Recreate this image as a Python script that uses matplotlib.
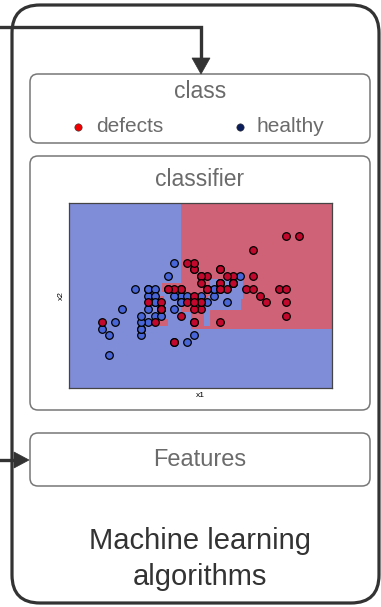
import numpy as np
import matplotlib.pyplot as plt
from matplotlib.patches import FancyBboxPatch, Polygon
from matplotlib.colors import ListedColormap

plt.rcParams['font.family'] = ['Liberation Sans', 'DejaVu Sans']

# scatter points (x1, x2)
healthy_x1 = [7.0, 6.4, 6.9, 5.5, 6.5, 5.7, 6.3, 4.9, 6.6, 5.2, 5.0, 5.9, 6.0, 6.1, 5.6,
              6.7, 5.6, 5.8, 6.2, 5.6, 5.9, 6.1, 6.3, 6.1, 6.4, 6.6, 6.8, 6.7, 6.0, 5.7,
              5.5, 5.5, 5.8, 6.0, 5.4, 6.0, 6.7, 6.3, 5.6, 5.5, 5.5, 6.1, 5.8, 5.0, 5.6,
              5.7, 5.7, 6.2, 5.1, 5.7]
healthy_x2 = [3.2, 3.2, 3.1, 2.3, 2.8, 2.8, 3.3, 2.4, 2.9, 2.7, 2.0, 3.0, 2.2, 2.9, 2.9,
              3.1, 3.0, 2.7, 2.2, 2.5, 3.2, 2.8, 2.5, 2.8, 2.9, 3.0, 2.8, 3.0, 2.9, 2.6,
              2.4, 2.4, 2.7, 2.7, 3.0, 3.4, 3.1, 2.3, 3.0, 2.5, 2.6, 3.0, 2.6, 2.3, 2.7,
              3.0, 2.9, 2.9, 2.5, 2.8]
defects_x1 = [6.3, 5.8, 7.1, 6.3, 6.5, 7.6, 4.9, 7.3, 6.7, 7.2, 6.5, 6.4, 6.8, 5.7, 5.8,
              6.4, 6.5, 7.7, 7.7, 6.0, 6.9, 5.6, 7.7, 6.3, 6.7, 7.2, 6.2, 6.1, 6.4, 7.2,
              7.4, 7.9, 6.4, 6.3, 6.1, 7.7, 6.3, 6.4, 6.0, 6.9, 6.7, 6.9, 5.8, 6.8, 6.7,
              6.7, 6.3, 6.5, 6.2, 5.9]
defects_x2 = [3.3, 2.7, 3.0, 2.9, 3.0, 3.0, 2.5, 2.9, 2.5, 3.6, 3.2, 2.7, 3.0, 2.5, 2.8,
              3.2, 3.0, 3.8, 2.6, 2.2, 3.2, 2.8, 2.8, 2.7, 3.3, 3.2, 2.8, 3.0, 2.8, 3.0,
              2.8, 3.8, 2.8, 2.8, 2.6, 3.0, 3.4, 3.1, 3.0, 3.1, 3.1, 3.1, 2.7, 3.2, 3.3,
              3.0, 2.5, 3.0, 3.4, 3.0]

# decision regions: (x1 from, x1 to, x2 from, x2 to), rest of the plane is "healthy"
red_leaves = [(6.1, 8.4, 2.4, 4.3),
              (5.8, 6.1, 2.95, 3.1),
              (5.75, 5.9, 2.45, 2.55),
              (5.75, 5.85, 2.75, 2.9)]
blue_leaves = [(6.55, 7.05, 2.85, 3.15),
               (6.5, 7.0, 2.7, 2.9),
               (6.45, 6.55, 2.45, 2.75),
               (6.1, 6.25, 2.4, 2.65)]

legend_labels = ['defects', 'healthy']

fig = plt.figure(figsize=(3.81, 6.07), dpi=100)

# diagram layer, one unit = one pixel
ax0 = fig.add_axes([0, 0, 1, 1])
ax0.set_xlim(0, 381)
ax0.set_ylim(607, 0)
ax0.axis('off')

dark = '#333333'
grey = '#6b6b6b'

outer = FancyBboxPatch((12, 5), 367, 598, boxstyle='round,pad=0,rounding_size=28',
                       fc='white', ec=dark, lw=2.3)
ax0.add_patch(outer)

for (y0, h) in [(74, 69), (156, 254), (433, 53)]:
    ax0.add_patch(FancyBboxPatch((30, y0), 340, h, boxstyle='round,pad=0,rounding_size=8',
                                 fc='white', ec='#777777', lw=1.1))

# arrows
ax0.plot([0, 201, 201], [27, 27, 60], color=dark, lw=2.4, solid_joinstyle='miter')
ax0.add_patch(Polygon([[192, 58], [210, 58], [201, 74]], closed=True, fc=dark, ec=dark, lw=0.5))
ax0.plot([0, 16], [460, 460], color=dark, lw=2.4)
ax0.add_patch(Polygon([[14, 452], [14, 468], [29, 460]], closed=True, fc=dark, ec=dark, lw=0.5))

ax0.text(200, 91, 'class', ha='center', va='center', fontsize=16.5, color=grey)
ax0.scatter([78], [127], s=28, color='#f00000', edgecolors='#333333', linewidths=0.4)
ax0.text(96, 127, legend_labels[0], ha='left', va='center', fontsize=15, color=grey)
ax0.scatter([240], [127], s=28, color='#0b1d5a', edgecolors='#333333', linewidths=0.4)
ax0.text(256, 127, legend_labels[1], ha='left', va='center', fontsize=15, color=grey)

ax0.text(200, 180, 'classifier', ha='center', va='center', fontsize=16.5, color=grey)
ax0.text(200, 460, 'Features', ha='center', va='center', fontsize=17, color=grey)
ax0.text(200, 541, 'Machine learning', ha='center', va='center', fontsize=21, color=dark)
ax0.text(200, 577, 'algorithms', ha='center', va='center', fontsize=21, color=dark)

# classifier panel
ax = fig.add_axes([69.3 / 381, 1 - 388.3 / 607, 262.4 / 381, 185 / 607])
xx, yy = np.meshgrid(np.arange(4.4, 8.41, 0.02), np.arange(1.5, 4.31, 0.02))
zz = np.zeros_like(xx)
for x0, x1, y0, y1 in red_leaves:
    zz[(xx >= x0) & (xx < x1) & (yy >= y0) & (yy < y1)] = 1
for x0, x1, y0, y1 in blue_leaves:
    zz[(xx >= x0) & (xx < x1) & (yy >= y0) & (yy < y1)] = 0
ax.pcolormesh(xx, yy, zz, cmap=ListedColormap(['#7f8dd9', '#cf6277']), shading='auto')

ax.scatter(healthy_x1, healthy_x2, s=30, color='#4866d8', edgecolors='black', linewidths=0.9, zorder=3)
ax.scatter(defects_x1, defects_x2, s=30, color='#c3082e', edgecolors='black', linewidths=0.9, zorder=3)

ax.set_xlim(4.4, 8.4)
ax.set_ylim(1.5, 4.3)
ax.set_xticks([])
ax.set_yticks([])
ax.set_xlabel('x1', fontsize=6, labelpad=3)
ax.set_ylabel('x2', fontsize=6, labelpad=3)
for s in ax.spines.values():
    s.set_color('#444444')
    s.set_linewidth(0.9)

fig.savefig('out.png', dpi=100)
